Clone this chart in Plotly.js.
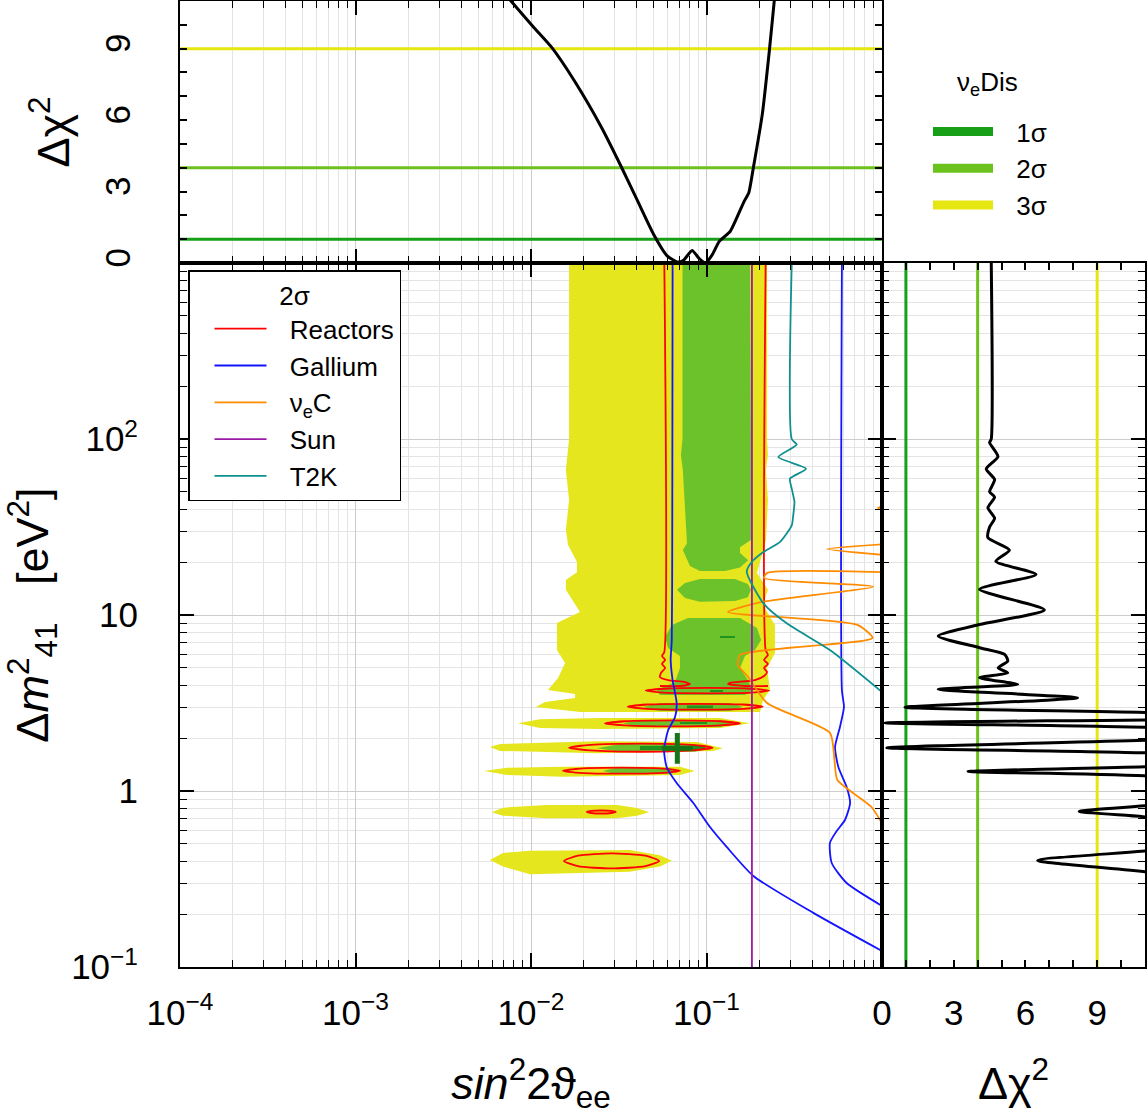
<!DOCTYPE html>
<html><head><meta charset="utf-8">
<script src="https://cdn.plot.ly/plotly-3.0.1.min.js"></script>
<style>html,body{margin:0;padding:0;background:#fff}#plot{width:1148px;height:1117px}</style>
</head><body><div id="plot"></div>
<script>
const FONT = 'Liberation Sans, Arial, Helvetica, sans-serif';

// ---- tick labels ----
const sinTickVals = [1e-4, 1e-3, 1e-2, 1e-1];
const sinTickText = ['10<sup>−4</sup>', '10<sup>−3</sup>', '10<sup>−2</sup>', '10<sup>−1</sup>'];
const dmTickVals = [0.1, 1, 10, 100];
const dmTickText = ['10<sup>−1</sup>', '1', '10', '10<sup>2</sup>'];
const chiTickVals = [0, 3, 6, 9];
const chiTickText = ['0', '3', '6', '9'];
const minorMantissas = [2, 3, 4, 5, 6, 7, 8, 9];

// ---- axis ranges ----
const sinRange = [1e-4, 1];
const dmRange = [0.1, 1000];
const chiRange = [0, 11];

// ---- confidence levels (Δχ² thresholds) ----
const levelNames = ['1σ', '2σ', '3σ'];
const levelChi2 = [1, 4, 9];

// ---- νe disappearance allowed regions (sin²2θ, Δm²) ----
const sigma3X = [
  0.01648,0.2213,0.2213,0.2239,0.2183,0.2239,0.2183,0.194,0.2239,0.21,0.2455,0.2455,0.2213,0.230,0.21,0.2018,0.01901,0.01066,0.01202,0.01782,0.01782,0.0125,0.01426,0.01563,0.01406,0.01406,0.01901,0.0158,0.0158,0.01828,0.01828,0.01626,0.0158,0.01648,0.0158,0.01648, null,
  0.00843,0.01125,0.0247,0.1194,0.177,0.1194,0.0247,0.01125, null,
  0.00583,0.00665,0.02377,0.0883,0.124,0.1089,0.02377,0.00665, null,
  0.0054,0.00729,0.0152,0.0706,0.0859,0.0706,0.0152,0.00729, null,
  0.00597,0.00692,0.01233,0.0309,0.0402,0.047,0.0402,0.0309,0.01233,0.00692, null,
  0.00583,0.00692,0.00986,0.0366,0.0543,0.0635,0.0543,0.0366,0.00986,0.00692
];
const sigma3Y = [
  1000,1000,100,81.1,66.7,45.0,26.7,17.3,13.9,11.4,8.78,6.08,5.0,3.75,3.29,2.81,2.81,3.00,3.20,3.38,3.56,3.75,4.38,5.34,6.32,9.0,10.4,13.9,15.8,17.5,20.0,25.0,30.4,45.0,66.7,100, null,
  2.43,2.56,2.60,2.60,2.43,2.28,2.25,2.28, null,
  1.778,1.85,1.92,1.90,1.75,1.69,1.64,1.69, null,
  1.30,1.357,1.374,1.374,1.30,1.233,1.205,1.233, null,
  0.757,0.804,0.832,0.832,0.80,0.757,0.724,0.70,0.70,0.724, null,
  0.405,0.445,0.458,0.462,0.432,0.401,0.372,0.348,0.337,0.372
];
const sigma2X = [
  0.073,0.177,0.179,0.179,0.1552,0.1552,0.1727,0.1552,0.1274,0.0918,0.0805,0.0764,0.0733,0.0774,0.0733,0.0715,0.073, null,
  0.0679,0.0754,0.0918,0.1452,0.172,0.179,0.172,0.1452,0.0918,0.0754, null,
  0.0785,0.1552,0.194,0.2047,0.189,0.1656,0.1552,0.172,0.184,0.1656,0.0543,0.0522,0.0662,0.0706,0.0706,0.0604,0.0581,0.0635, null,
  0.0435,0.0543,0.136,0.1614,0.136,0.0543, null,
  0.0334,0.0418,0.1194,0.1416,0.1194,0.0418, null,
  0.02377,0.0321,0.0859,0.1047,0.0859,0.0321, null,
  0.0257,0.0301,0.0619,0.0679,0.0619,0.0301
];
const sigma2Y = [
  1000,1000,100,26.7,24.3,22.5,20.5,18.6,17.8,17.8,19.0,21.1,23.4,25.6,66.7,81.1,100, null,
  13.9,15.2,16.0,16.0,15.0,13.9,12.6,12.0,11.9,12.5, null,
  9.62,9.62,8.43,7.21,6.32,5.85,5.0,4.27,3.75,3.51,3.51,3.75,4.16,5.0,5.85,6.50,7.50,8.78, null,
  3.00,3.16,3.16,3.00,2.85,2.85, null,
  2.43,2.53,2.53,2.43,2.31,2.31, null,
  1.75,1.85,1.85,1.75,1.67,1.67, null,
  1.30,1.35,1.35,1.30,1.249,1.249
];
const sigma1X = [
  0.1194,0.1452,0.1452,0.1194, null,
  0.1047,0.124,0.124,0.1047, null,
  0.0774,0.1089,0.1089,0.0774, null,
  0.0706,0.1007,0.1007,0.0706, null,
  0.0418,0.098,0.098,0.0418
];
const sigma1Y = [
  7.60,7.60,7.40,7.40, null,
  3.75,3.75,3.65,3.65, null,
  3.06,3.06,2.95,2.95, null,
  2.47,2.47,2.40,2.40, null,
  1.80,1.80,1.71,1.71
];
const bestFitX = [0.0682];
const bestFitY = [1.748];

// ---- 2σ contours of individual data sets ----
const reactorsX = [
  0.0575,0.0575,0.0558,0.0581,0.0558,0.0581,0.0550,0.0543,0.0604,0.0754,0.0805,0.0706,0.0543, null,
  0.2173,0.2173,0.2239,0.2128,0.2239,0.2128,0.2213,0.2128,0.189,0.136,0.1327,0.1656,0.2239, null,
  0.0451,0.0571,0.1014,0.1799,0.228,0.1799,0.1014,0.0571,0.0451, null,
  0.0356,0.0459,0.0863,0.1614,0.209,0.1614,0.0863,0.0459,0.0356, null,
  0.0264,0.0342,0.0640,0.1199,0.1552,0.1199,0.0640,0.0342,0.0264, null,
  0.01648,0.0218,0.0424,0.0824,0.1084,0.0824,0.0424,0.0218,0.01648, null,
  0.0152,0.0190,0.0327,0.0564,0.0706,0.0564,0.0327,0.0190,0.0152, null,
  0.0208,0.0220,0.0251,0.0287,0.0304,0.0287,0.0251,0.0220,0.0208, null,
  0.0154,0.0185,0.0288,0.0449,0.0538,0.0449,0.0288,0.0185,0.0154
];
const reactorsY = [
  1000,6.17,5.85,5.55,5.27,5.00,4.68,4.44,4.27,4.16,4.05,3.95,3.95, null,
  1000,6.32,5.93,5.55,5.27,5.00,4.74,4.50,4.27,4.11,4.05,3.95,3.95, null,
  3.72,3.81,3.85,3.81,3.72,3.62,3.59,3.62,3.72, null,
  3.01,3.10,3.13,3.10,3.01,2.93,2.90,2.93,3.01, null,
  2.42,2.49,2.52,2.49,2.42,2.36,2.33,2.36,2.42, null,
  1.762,1.828,1.857,1.828,1.762,1.70,1.671,1.70,1.762, null,
  1.304,1.340,1.356,1.340,1.304,1.268,1.254,1.268,1.304, null,
  0.760,0.770,0.775,0.770,0.760,0.750,0.745,0.750,0.760, null,
  0.400,0.429,0.442,0.429,0.400,0.374,0.363,0.374,0.400
];
const galliumX = [
  0.0641,0.0638,0.0634,0.0625,0.0641,0.0676,0.0662,0.0605,0.0573,0.0593,0.0676,0.0841,0.1047,0.1303,0.185,0.406,1.05, null,
  0.591,0.591,0.607,0.576,0.540,0.564,0.629,0.658,0.615,0.547,0.505,0.517,0.629,1.05
];
const galliumY = [
  1000,26.7,7.21,5.55,4.27,3.16,2.63,2.22,1.71,1.369,1.11,0.855,0.624,0.481,0.329,0.203,0.120, null,
  1000,3.75,3.00,2.31,1.778,1.369,1.054,0.855,0.684,0.585,0.507,0.390,0.300,0.216
];
const nueCX = [
  1.05,0.948,1.05, null,
  1.05,0.486,1.05, null,
  1.05,0.2213,0.2128,0.889,0.21,0.1327,0.724,0.883,0.1552,0.151,0.1727,0.2213,0.505,0.536,0.557,0.871,1.05
];
const nueCY = [
  42.2,40.5,39.0, null,
  25.3,23.7,21.9, null,
  17.5,17.3,16.2,14.5,11.9,10.4,8.78,7.40,5.93,5.20,4.44,3.16,2.14,1.50,1.155,0.811,0.600
];
const sunX = [0.1815, 0.1815];
const sunY = [1000, 0.1];
const t2kX = [0.306,0.306,0.3266,0.2566,0.369,0.299,0.306,0.317,0.312,0.306,0.2624,0.211,0.181,0.1696,0.211,0.2864,0.505,1.02];
const t2kY = [1000,100,92.8,79.0,67.8,59.5,52.2,43.9,36.8,32.3,26.0,22.8,20.0,17.6,11.65,8.97,6.32,3.59];

// ---- marginal Δχ² profiles ----
const profSinX = [0.00501,0.00769,0.01035,0.01312,0.01766,0.02523,0.03289,0.04055,0.05,0.0597,0.06839,0.07362,0.08279,0.09057,0.09863,0.1079,0.118,0.1368,0.1641,0.1742,0.1849,0.208,0.228,0.2432,0.263];
const profSinChi = [12.6,11,9.9,9.05,7.65,5.69,4.0,2.6,1.2,0.3,0.04,0.1,0.53,0.2,0.0,0.35,0.9,1.34,2.6,2.95,4.0,6.25,8.9,11,13.5];
const profDm = [1000,100,95.5,79.4,67.6,58.9,50.1,46.8,40.7,35.5,31.6,27.5,23.4,20.2,17.0,14.0,10.7,8.83,7.59,6.52,5.97,5.47,5.01,4.69,4.40,4.03,3.78,3.38,2.99,2.78,2.60,2.44,2.29,2.09,1.95,1.76,1.64,1.48,1.38,1.29,1.21,1.0,0.836,0.766,0.702,0.562,0.463,0.403,0.341,0.251,0.1];
const profDmChi = [4.57,4.57,4.5,4.85,4.36,4.71,4.5,4.71,4.43,4.71,4.5,4.43,5.33,4.76,6.44,4.08,6.79,4.08,2.35,4.08,5.13,5.26,4.86,5.26,4.08,5.68,2.35,8.18,0.96,11.5,16,0.125,11.5,16,11.5,0.2,11.5,16,11.5,3.6,11.5,16,11.5,8.25,11.5,16,11.5,6.51,11.5,16,16];

// ---- styling ----
const levelColors = ['#17a017', '#6cc21c', '#e6e612'];
const fillColors = {s3: '#e6e61e', s2: '#6cc22a', s1: '#1f941f'};
const W = 1148, H = 1117;
const px = {l: 180, r: 882, rr: 1145, t: 263, b: 967, top: 1};
const GAP = '\u2002\u2009';

const sinMinor = sinTickVals.flatMap(d => minorMantissas.map(m => m * d));
const dmMinor = dmTickVals.flatMap(d => minorMantissas.map(m => m * d));

const traces = [];
traces.push({x: sigma3X, y: sigma3Y, type: 'scatter', mode: 'lines', fill: 'toself', fillcolor: fillColors.s3,
  line: {width: 0, color: fillColors.s3}, connectgaps: false, showlegend: false, hoverinfo: 'skip'});
traces.push({x: sigma2X, y: sigma2Y, type: 'scatter', mode: 'lines', fill: 'toself', fillcolor: fillColors.s2,
  line: {width: 0, color: fillColors.s2}, connectgaps: false, showlegend: false, hoverinfo: 'skip'});
traces.push({x: sigma1X, y: sigma1Y, type: 'scatter', mode: 'lines', fill: 'toself', fillcolor: fillColors.s1,
  line: {width: 0, color: fillColors.s1}, connectgaps: false, showlegend: false, hoverinfo: 'skip'});

const lineSets = [
  ['Reactors', reactorsX, reactorsY, '#ff0000'],
  ['Gallium', galliumX, galliumY, '#1414ff'],
  ['ν<sub>e</sub>C', nueCX, nueCY, '#ff8c00'],
  ['Sun', sunX, sunY, '#9a1aa8'],
  ['T2K', t2kX, t2kY, '#0f9090']
];
lineSets.forEach(([n, xs, ys, c]) => traces.push({x: xs, y: ys, type: 'scatter', mode: 'lines', name: GAP + n,
  line: {color: c, width: 1.8, shape: 'spline', smoothing: 0.6}, connectgaps: false, legend: 'legend'}));

traces.push({x: bestFitX, y: bestFitY, type: 'scatter', mode: 'markers', showlegend: false,
  marker: {symbol: 'cross-thin', size: 22, line: {width: 5, color: '#167516'}}});

// top panel: Δχ² vs sin²2θ
levelChi2.forEach((v, i) => traces.push({x: sinRange, y: [v, v], xaxis: 'x2', yaxis: 'y2',
  type: 'scatter', mode: 'lines', line: {color: levelColors[i], width: 3}, showlegend: false, hoverinfo: 'skip'}));
traces.push({x: profSinX, y: profSinChi, xaxis: 'x2', yaxis: 'y2', type: 'scatter', mode: 'lines',
  line: {color: '#000', width: 3, shape: 'spline', smoothing: 0.5}, showlegend: false});

// right panel: Δχ² vs Δm²
levelChi2.forEach((v, i) => traces.push({x: [v, v], y: dmRange, xaxis: 'x3', yaxis: 'y3',
  type: 'scatter', mode: 'lines', line: {color: levelColors[i], width: 3}, showlegend: false, hoverinfo: 'skip'}));
traces.push({x: profDmChi, y: profDm, xaxis: 'x3', yaxis: 'y3', type: 'scatter', mode: 'lines',
  line: {color: '#000', width: 3, shape: 'spline', smoothing: 0.6}, showlegend: false});

// legend entries for the confidence levels
levelNames.forEach((n, i) => traces.push({x: [null], y: [null], xaxis: 'x2', yaxis: 'y2', type: 'scatter', mode: 'lines',
  name: GAP + n, line: {color: levelColors[i], width: 9}, legend: 'legend2'}));

const tickFont = {family: FONT, size: 35, color: '#000'};
const titleFont = {family: FONT, size: 45, color: '#000'};
function ax(extra) {
  return Object.assign({showline: true, linecolor: '#000', linewidth: 2, mirror: 'ticks', ticks: 'inside',
    tickcolor: '#000', tickwidth: 1.5, zeroline: false, tickfont: tickFont, showgrid: false, automargin: false}, extra);
}
const logMinor = vals => ({tickmode: 'array', tickvals: vals, ticks: 'inside', ticklen: 7, tickcolor: '#000', tickwidth: 1,
  showgrid: true, gridcolor: '#e4e4e4', gridwidth: 1});
const chiMinor = {tickmode: 'linear', tick0: 0, dtick: 1, ticks: 'inside', ticklen: 7, tickcolor: '#000', tickwidth: 1.5, showgrid: false};

const xd = [px.l / W, px.r / W];
const yd = [(H - px.b) / H, (H - px.t) / H];
const logR = r => r.map(Math.log10);

const layout = {
  width: W, height: H,
  margin: {l: 0, r: 0, t: 0, b: 0, pad: 0},
  paper_bgcolor: '#fff', plot_bgcolor: '#fff',
  font: {family: FONT, color: '#000'},
  xaxis: ax({type: 'log', range: logR(sinRange), domain: xd, anchor: 'y', tickmode: 'array', tickvals: sinTickVals, ticktext: sinTickText,
    ticklen: 14, showgrid: true, gridcolor: '#cccccc', minor: logMinor(sinMinor), ticklabelstandoff: 14,
    title: {text: '<i>sin</i><sup>2</sup>2ϑ<sub>ee</sub>', font: titleFont, standoff: 36}}),
  yaxis: ax({type: 'log', range: logR(dmRange), domain: yd, anchor: 'x', tickmode: 'array', tickvals: dmTickVals, ticktext: dmTickText,
    ticklen: 14, showgrid: true, gridcolor: '#cccccc', minor: logMinor(dmMinor), ticklabelstandoff: 33,
    title: {text: 'Δ<i>m</i><sup>2</sup><sub>41</sub>\u00a0\u00a0\u00a0[eV<sup>2</sup>]', font: titleFont, standoff: 12}}),
  xaxis2: ax({type: 'log', range: logR(sinRange), domain: xd, anchor: 'y2', matches: 'x', tickmode: 'array', tickvals: sinTickVals,
    showticklabels: false, ticklen: 14, showgrid: true, gridcolor: '#cccccc', minor: logMinor(sinMinor)}),
  yaxis2: ax({range: chiRange, domain: [(H - px.t) / H, (H - px.top) / H], anchor: 'x2', tickmode: 'array', tickvals: chiTickVals,
    ticktext: chiTickText, ticklen: 7, tickangle: -90, ticklabelstandoff: 34, minor: chiMinor,
    title: {text: 'Δχ<sup>2</sup>', font: titleFont, standoff: 14}}),
  xaxis3: ax({range: chiRange, domain: [px.r / W, px.rr / W], anchor: 'y3', tickmode: 'array', tickvals: chiTickVals,
    ticktext: chiTickText, ticklen: 7, ticklabelstandoff: 14, minor: chiMinor,
    title: {text: 'Δχ<sup>2</sup>', font: titleFont, standoff: 36}}),
  yaxis3: ax({type: 'log', range: logR(dmRange), domain: yd, anchor: 'x3', matches: 'y', tickmode: 'array', tickvals: dmTickVals,
    showticklabels: false, ticklen: 14, showgrid: true, gridcolor: '#cccccc', minor: logMinor(dmMinor)}),
  legend: {x: 188 / W, y: 1 - 270 / H, xanchor: 'left', yanchor: 'top', bgcolor: '#fff', bordercolor: '#000', borderwidth: 1.5,
    font: {family: FONT, size: 26, color: '#000'}, itemwidth: 52, indentation: 20, traceorder: 'normal',
    title: {text: '2σ', side: 'top center', font: {family: FONT, size: 26, color: '#000'}}},
  legend2: {x: 928 / W, y: 1 - 108 / H, xanchor: 'left', yanchor: 'top', bgcolor: 'rgba(0,0,0,0)', borderwidth: 0,
    font: {family: FONT, size: 26, color: '#000'}, itemwidth: 60, traceorder: 'normal'},
  annotations: [{text: 'ν<sub>e</sub>Dis', xref: 'paper', yref: 'paper', x: 987 / W, y: 1 - 83 / H, xanchor: 'center', yanchor: 'middle',
    showarrow: false, font: {family: FONT, size: 26, color: '#000'}}],
  showlegend: true
};

Plotly.newPlot('plot', traces, layout, {displayModeBar: false, responsive: false});
</script></body></html>
